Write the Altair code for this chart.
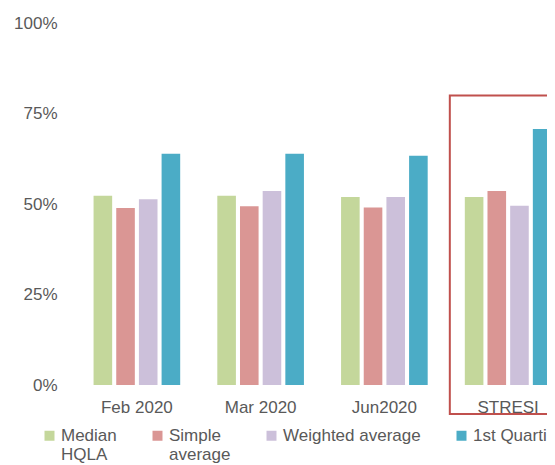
import altair as alt
import pandas as pd

periods = ["Feb 2020", "Mar 2020", "Jun2020", "STRESI"]
series = ["Median HQLA", "Simple average", "Weighted average", "1st Quartile"]
median_hqla = [0.523, 0.523, 0.519, 0.519]
simple_average = [0.489, 0.494, 0.490, 0.536]
weighted_average = [0.513, 0.536, 0.519, 0.495]
first_quartile = [0.639, 0.639, 0.633, 0.707]
colors = ["#C4D79B", "#DA9694", "#CCC0DA", "#4BACC6"]

highlight_period = ["STRESI"]
highlight_top = [0.80]
highlight_bottom = [-0.08]

rows = []
for name, vals in zip(series, [median_hqla, simple_average, weighted_average, first_quartile]):
    for p, v in zip(periods, vals):
        rows.append({"period": p, "series": name, "value": v})
df = pd.DataFrame(rows)

box_df = pd.DataFrame({"period": highlight_period, "top": highlight_top, "bottom": highlight_bottom})

FONT = "Liberation Sans"
TXT = "#595959"

xscale = alt.Scale(domain=periods, range=[0, 495], paddingInner=0.3, paddingOuter=0.15)
yscale = alt.Scale(domain=[0, 1], nice=False)

bars = alt.Chart(df).mark_bar().encode(
    x=alt.X("period:N", sort=periods, scale=xscale,
            axis=alt.Axis(title=None, labelAngle=0, domain=False, ticks=False,
                          labelPadding=14, labelFontSize=17, labelColor=TXT, labelFont=FONT)),
    xOffset=alt.XOffset("series:N", sort=series,
                        scale=alt.Scale(domain=series, paddingInner=0.18, paddingOuter=0)),
    y=alt.Y("value:Q", scale=yscale,
            axis=alt.Axis(title=None, values=[0, 0.25, 0.5, 0.75, 1], format=".0%",
                          domain=False, ticks=False, grid=False, labelPadding=18,
                          labelFontSize=17, labelColor=TXT, labelFont=FONT)),
    color=alt.Color("series:N", sort=series,
                    scale=alt.Scale(domain=series, range=colors),
                    legend=alt.Legend(title=None, orient="none", legendX=-34, legendY=404,
                                      direction="horizontal", columns=4,
                                      symbolType="square", symbolSize=100,
                                      symbolStrokeWidth=0, labelFontSize=17,
                                      labelColor=TXT, labelFont=FONT, labelLimit=400,
                                      columnPadding=32, labelOffset=3,
                                      labelExpr="datum.label == 'Median HQLA' ? ['Median', 'HQLA'] : datum.label == 'Simple average' ? ['Simple', 'average'] : [datum.label, ' ']")),
)

box = alt.Chart(box_df).mark_rect(filled=False, stroke="#C0504D", strokeWidth=2, xOffset=-15).encode(
    x=alt.X("period:N", sort=periods, scale=xscale, bandPosition=0),
    x2=alt.value(620),
    y=alt.Y("top:Q", scale=yscale, title=None),
    y2=alt.Y2("bottom"),
)

chart = alt.layer(bars, box).properties(
    width=472, height=362,
    autosize=alt.AutoSizeParams(type="none"),
    padding={"left": 67, "top": 15, "right": 0, "bottom": 80},
).configure(font=FONT).configure_view(stroke=None)

chart.save("out.html", embed_options={"renderer": "svg", "actions": False})
